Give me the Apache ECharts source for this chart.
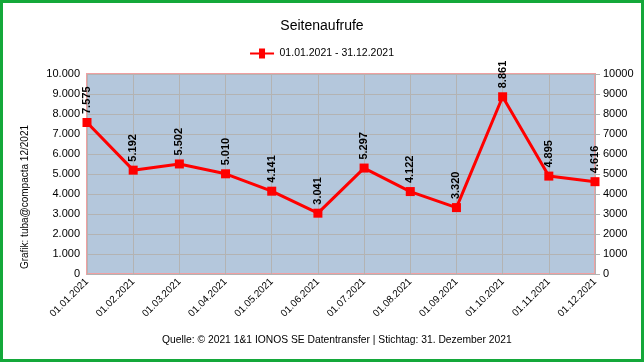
<!DOCTYPE html>
<html><head><meta charset="utf-8">
<script src="https://cdn.jsdelivr.net/npm/echarts@6/dist/echarts.min.js"></script>
<style>
html,body{margin:0;padding:0;background:#fff;}
#wrap{position:absolute;left:0;top:0;width:644px;height:362px;box-sizing:border-box;border:3px solid #14a83a;}
#c{position:absolute;left:0;top:0;width:644px;height:362px;}
</style></head><body>
<div id="c"></div><div id="wrap"></div>
<script>
const categories = ['01.01.2021','01.02.2021','01.03.2021','01.04.2021','01.05.2021','01.06.2021','01.07.2021','01.08.2021','01.09.2021','01.10.2021','01.11.2021','01.12.2021'];
const values = [7575,5192,5502,5010,4141,3041,5297,4122,3320,8861,4895,4616];
const seriesName = '01.01.2021 - 31.12.2021';
const titleText = 'Seitenaufrufe';
const sideText = 'Grafik: tuba@compacta 12/2021';
const footerText = 'Quelle: © 2021 1&1 IONOS SE Datentransfer | Stichtag: 31. Dezember 2021';

function dots(v){return String(v).replace(/\B(?=(\d{3})+(?!\d))/g,'.');}
const F = 'Liberation Sans, Arial, sans-serif';
const chart = echarts.init(document.getElementById('c'));
chart.setOption({
  animation:false,
  textStyle:{fontFamily:F},
  title:{text:titleText,left:'center',top:14,textStyle:{fontFamily:F,fontSize:14,fontWeight:'normal',color:'#000'}},
  legend:{top:43,left:'center',itemWidth:25,itemHeight:10,itemGap:3,textStyle:{fontFamily:F,fontSize:10.5,color:'#000'},data:[{name:seriesName,icon:'path://M0,4h9v-4h6v4h9v2h-9v4h-6v-4h-9z'}]},
  grid:{left:87,right:49,top:74,bottom:88,show:true,backgroundColor:'#b4c7dc',borderColor:'#f0a0a2',borderWidth:2},
  xAxis:{type:'category',data:categories,boundaryGap:false,
    axisLine:{show:false},axisTick:{show:false},
    splitLine:{show:true,lineStyle:{color:'#b3b3b3',width:1}},
    axisLabel:{rotate:45,fontSize:10,color:'#000',margin:6,interval:0,fontFamily:F}},
  yAxis:[
    {type:'value',min:0,max:10000,interval:1000,position:'left',
      axisLine:{show:false},axisTick:{show:false},
      splitLine:{show:true,lineStyle:{color:'#b3b3b3',width:1}},
      axisLabel:{formatter:v=>dots(v),fontSize:11,color:'#000',margin:7,fontFamily:F}},
    {type:'value',min:0,max:10000,interval:1000,position:'right',
      axisLine:{show:false},axisTick:{show:true,length:5,lineStyle:{color:'#b3b3b3'}},
      splitLine:{show:false},
      axisLabel:{formatter:v=>String(v),fontSize:11,color:'#000',margin:8,fontFamily:F}}
  ],
  series:[{name:seriesName,type:'line',data:values,yAxisIndex:0,
    symbol:'rect',symbolSize:9,
    lineStyle:{color:'#ff0000',width:3},itemStyle:{color:'#ff0000'},
    label:{show:true,position:'top',distance:4,rotate:90,align:'left',verticalAlign:'middle',
      formatter:p=>dots(p.value),fontSize:11,fontWeight:'bold',color:'#000',fontFamily:F}
  }],
  graphic:[
    {type:'text',left:20,top:125,rotation:Math.PI/2,style:{text:sideText,fill:'#000',font:'10px '+F}},
    {type:'text',left:162,top:335,style:{text:footerText,fill:'#000',font:'10.3px '+F}}
  ]
});
</script></body></html>
